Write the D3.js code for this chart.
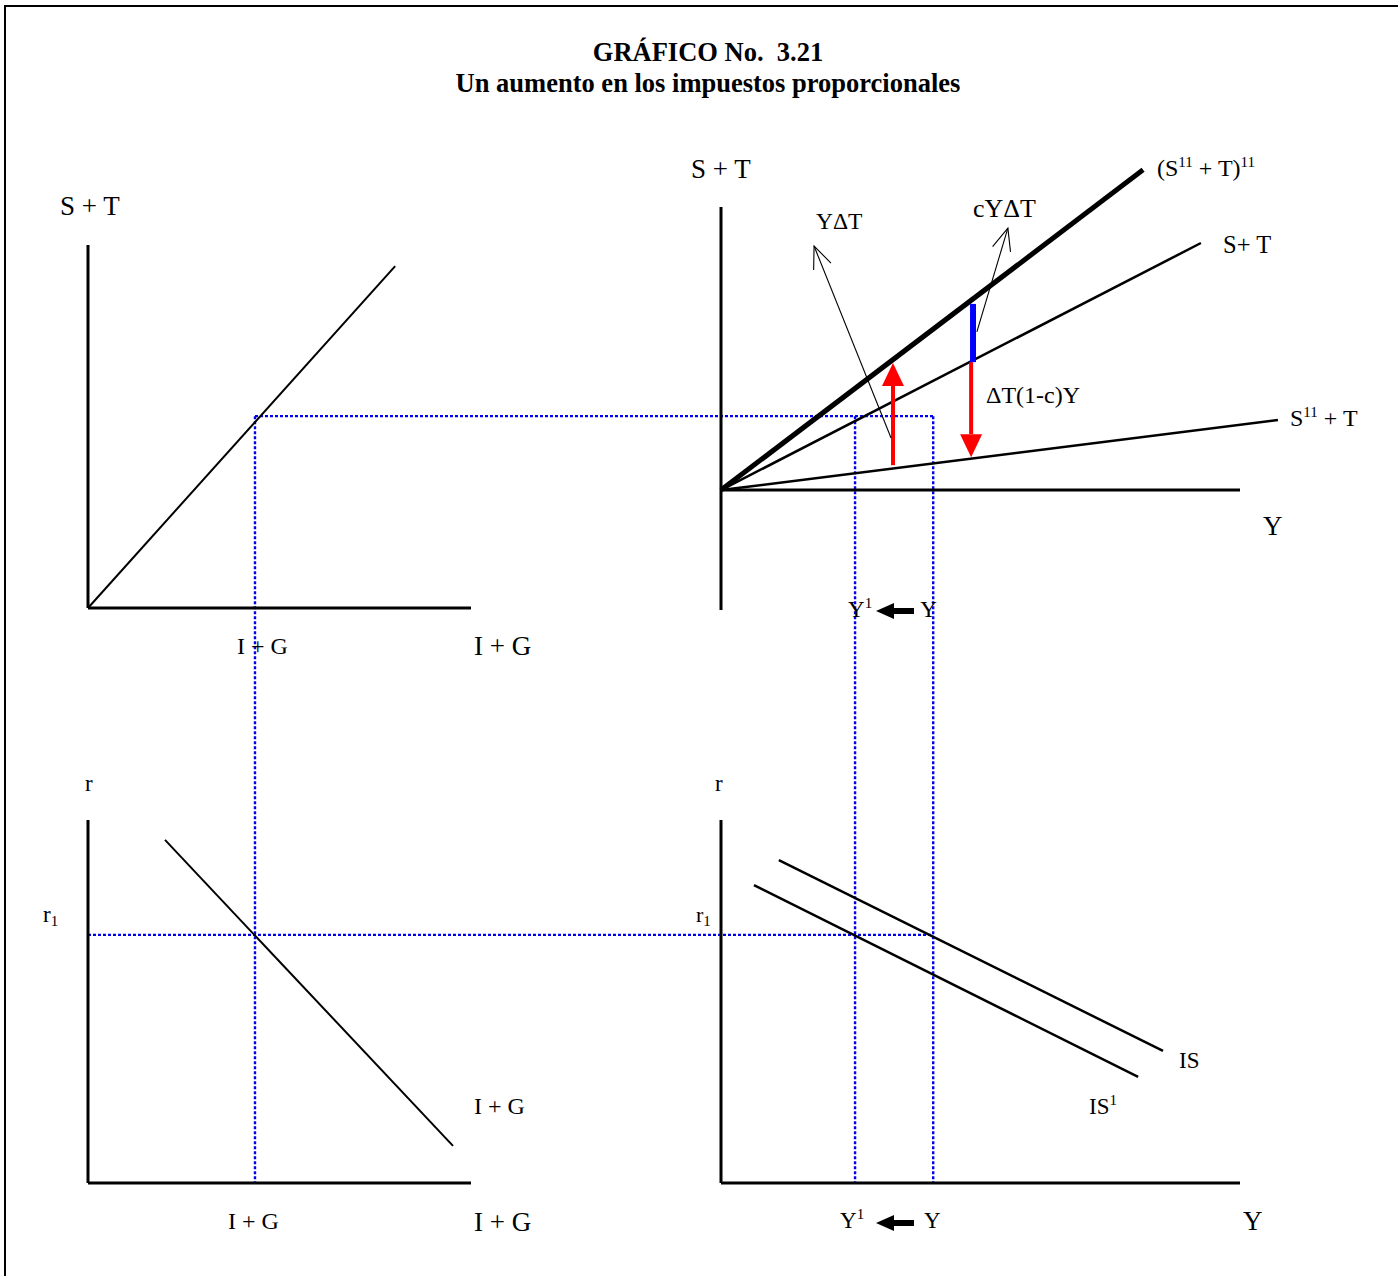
<!DOCTYPE html>
<html>
<head>
<meta charset="utf-8">
<script src="https://cdn.jsdelivr.net/npm/d3@7"></script>
<style>
  body { margin: 0; background: #fff; }
  text { font-family: 'Liberation Serif', 'Times New Roman', serif; fill: #000; white-space: pre; }
</style>
</head>
<body>
<svg id="chart" width="1398" height="1276"></svg>
<script>
// ---- values (one unit = one step of the drawing grid) ----
const titleLines = ["GRÁFICO No.  3.21", "Un aumento en los impuestos proporcionales"];

// top-left: 45 degree line  S+T = I+G
const lineTL = [[0, 0], [80.2, 89.3]];
// top-right: savings + taxes rays from origin
const raysTR = [
  { id: "s11t11", end: [110.2, 83.6], thick: true },
  { id: "st", end: [125.3, 64.5], thick: false },
  { id: "s11t", end: [145.4, 18.3], thick: false }
];
// bottom-left: investment demand
const lineBL = [[20.1, 89.6], [95.3, 9.7]];
// bottom-right: IS curves
const lineIS = [[15.1, 84.3], [115.4, 34.5]];
const lineIS1 = [[8.6, 77.8], [108.9, 27.7]];

// equilibrium values
const eqIG = 43.6, eqST = 50.1, Y0 = 55.4, Y1 = 35.0, r1 = 64.8;

// arrows in the top-right panel  [Y, from, to]
const redUp = [44.9, 6.5, 33.2];
const redDown = [65.3, 33.4, 8.6];
const blueBar = [65.8, 33.4, 48.6];
const noteYdT = [[44.4, 13.6], [24.3, 63.7]];
const noteCYdT = [[66.8, 41.3], [74.9, 68.4]];

// ---- scales ----
const svg = d3.select("#chart");
const xL = d3.scaleLinear().domain([0, 100]).range([88, 471]);
const xR = d3.scaleLinear().domain([0, 135.5]).range([721, 1240]);
const yTL = d3.scaleLinear().domain([0, 94.8]).range([608, 245]);
const yTR = d3.scaleLinear().domain([-31.3, 73.9]).range([610, 207]);
const yB = d3.scaleLinear().domain([0, 94.8]).range([1183, 820]);

// frame
svg.append("rect").attr("x", 5).attr("y", 6).attr("width", 1420).attr("height", 1300)
  .attr("fill", "none").attr("stroke", "#000").attr("stroke-width", 2);

// title
svg.selectAll(".title").data(titleLines).join("text")
  .attr("class", "title")
  .attr("x", 708).attr("y", (d, i) => 61 + i * 31)
  .attr("text-anchor", "middle").attr("font-size", 26.5).attr("font-weight", "bold")
  .text(d => d);

const line = (xs, ys) => d3.line().x(d => xs(d[0])).y(d => ys(d[1]));

function seg(xs, ys, pts, w, color) {
  svg.append("path").attr("d", line(xs, ys)(pts))
    .attr("fill", "none").attr("stroke", color || "#000").attr("stroke-width", w);
}

// ---- blue dotted guides (drawn first, under the axes) ----
const guides = svg.append("g").attr("stroke", "#0000ee").attr("stroke-width", 2.4)
  .attr("stroke-dasharray", "3,2").attr("fill", "none");
guides.append("line").attr("x1", xL(eqIG)).attr("x2", xR(Y0)).attr("y1", yTL(eqST)).attr("y2", yTL(eqST));
guides.append("line").attr("x1", xL(eqIG)).attr("x2", xL(eqIG)).attr("y1", yTL(eqST)).attr("y2", yB(0));
[Y0, Y1].forEach(v => guides.append("line").attr("x1", xR(v)).attr("x2", xR(v))
  .attr("y1", yTL(eqST)).attr("y2", yB(0)));
guides.append("line").attr("x1", xL(0)).attr("x2", xR(Y0)).attr("y1", yB(r1)).attr("y2", yB(r1));

// ---- axes ----
function axes(xs, ys, y0, yMin) {
  seg(xs, ys, [[0, yMin], [0, ys.domain()[1]]], 3);
  seg(xs, ys, [[0, y0], [xs.domain()[1], y0]], 3);
}
axes(xL, yTL, 0, 0);
axes(xR, yTR, 0, -31.3);
axes(xL, yB, 0, 0);
axes(xR, yB, 0, 0);

// ---- curves ----
seg(xL, yTL, lineTL, 2);
raysTR.forEach(r => seg(xR, yTR, [[0, 0], r.end], r.thick ? 5 : 2.5));
seg(xL, yB, lineBL, 2);
seg(xR, yB, lineIS, 2.5);
seg(xR, yB, lineIS1, 2.5);

// ---- arrows ----
function redArrow(a) {
  const x = xR(a[0]), y1 = yTR(a[1]), y2 = yTR(a[2]);
  const dir = Math.sign(y2 - y1), head = 23;
  svg.append("line").attr("x1", x).attr("x2", x).attr("y1", y1).attr("y2", y2 - dir * head)
    .attr("stroke", "#ff0000").attr("stroke-width", 4);
  svg.append("path").attr("fill", "#ff0000")
    .attr("d", `M${x},${y2} L${x - 11},${y2 - dir * head} L${x + 11},${y2 - dir * head} Z`);
}
redArrow(redUp);
redArrow(redDown);
svg.append("line").attr("x1", xR(blueBar[0])).attr("x2", xR(blueBar[0]))
  .attr("y1", yTR(blueBar[1])).attr("y2", yTR(blueBar[2]))
  .attr("stroke", "#0000ff").attr("stroke-width", 6);

function thinArrow(pts) {
  const [a, b] = pts.map(p => [xR(p[0]), yTR(p[1])]);
  svg.append("line").attr("x1", a[0]).attr("y1", a[1]).attr("x2", b[0]).attr("y2", b[1])
    .attr("stroke", "#000").attr("stroke-width", 1.1);
  const ang = Math.atan2(a[1] - b[1], a[0] - b[0]), L = 24, s = 0.4;
  const p1 = [b[0] + L * Math.cos(ang + s), b[1] + L * Math.sin(ang + s)];
  const p2 = [b[0] + L * Math.cos(ang - s), b[1] + L * Math.sin(ang - s)];
  svg.append("path").attr("d", `M${p1} L${b} L${p2}`)
    .attr("fill", "none").attr("stroke", "#000").attr("stroke-width", 1.1);
}
thinArrow(noteYdT);
thinArrow(noteCYdT);

// "Y1 <- Y" shift arrows
function shiftArrow(yc) {
  const xt = 876, xb = 894, xe = 914;
  svg.append("path").attr("fill", "#000")
    .attr("d", `M${xt},${yc} L${xb},${yc - 8} L${xb},${yc - 3} L${xe},${yc - 3} L${xe},${yc + 3} L${xb},${yc + 3} L${xb},${yc + 8} Z`);
}
shiftArrow(611);
shiftArrow(1223);

// ---- labels ----
function label(x, y, parts, size, anchor) {
  const t = svg.append("text").attr("x", x).attr("y", y).attr("font-size", size || 24)
    .attr("text-anchor", anchor || "start");
  let shift = 0;
  parts.forEach(p => {
    const [txt, kind] = Array.isArray(p) ? p : [p, ""];
    const target = kind === "sup" ? -9 : kind === "sub" ? 4 : 0;
    t.append("tspan").attr("dy", target - shift)
      .attr("font-size", kind ? 15 : null).text(txt);
    shift = target;
  });
}

// top-left
label(xL(0) - 28, yTL(94.8) - 30, ["S + T"], 27);
label(xL(eqIG) - 18, yTL(0) + 46, ["I + G"], 24);
label(xL(100) + 3, yTL(0) + 47, ["I + G"], 27);

// top-right
label(xR(0) - 30, yTR(73.9) - 29, ["S + T"], 27);
label(1157, 176, ["(S", ["11", "sup"], " + T)", ["11", "sup"]], 24);
label(1223, 253, ["S+ T"], 24.5);
label(816, 229, ["YΔT"], 23.5);
label(973, 217, ["cYΔT"], 26);
label(986, 403, ["ΔT(1-c)Y"], 24);
label(1290, 426, ["S", ["11", "sup"], " + T"], 24);
label(xR(0) + 542, yTR(0) + 45, ["Y"], 27);
label(xR(Y1) - 7, 617, ["Y", ["1", "sup"]], 23);
label(xR(Y0) - 13, 617, ["Y"], 23);

// bottom-left
label(xL(0) - 3, yB(94.8) - 29, ["r"], 23);
label(43, yB(r1) - 13, ["r", ["1", "sub"]], 23);
label(474, 1114, ["I + G"], 24);
label(xL(eqIG) - 27, yB(0) + 46, ["I + G"], 24);
label(xL(100) + 3, yB(0) + 48, ["I + G"], 27);

// bottom-right
label(xR(0) - 6, yB(94.8) - 29, ["r"], 23);
label(696, yB(r1) - 13, ["r", ["1", "sub"]], 22);
label(1179, 1068, ["IS"], 23);
label(1089, 1114, ["IS", ["1", "sup"]], 23);
label(840, 1228, ["Y", ["1", "sup"]], 23);
label(924, 1228, ["Y"], 23);
label(xR(0) + 522, yB(0) + 47, ["Y"], 27);
</script>
</body>
</html>
